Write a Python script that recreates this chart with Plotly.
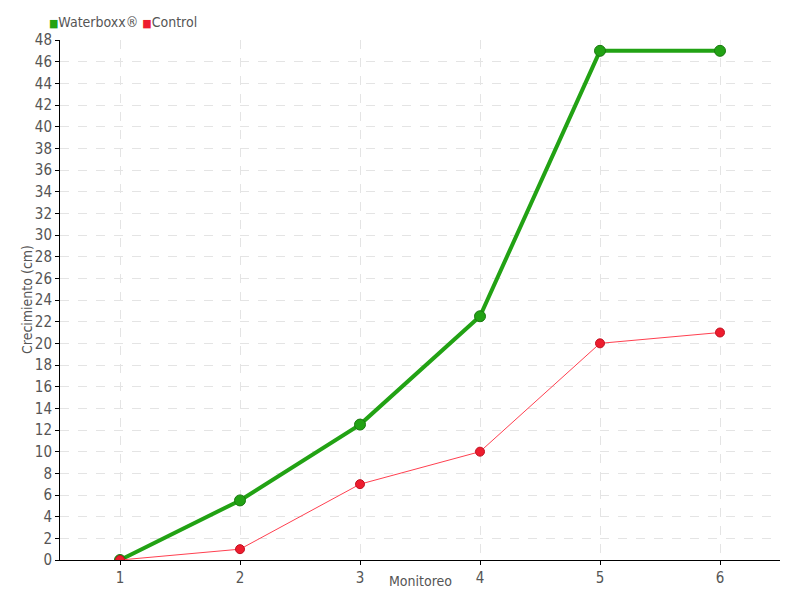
import plotly.graph_objects as go

monitoreo = [1, 2, 3, 4, 5, 6]
waterboxx = [0, 5.5, 12.5, 22.5, 47, 47]
control = [0, 1, 7, 10, 20, 21]
y_ticks = list(range(0, 49, 2))

FONT = "Liberation Sans Narrow, DejaVu Sans Condensed, sans-serif"
GREEN = "#22a214"
RED = "#ee1c2e"
TXT = "#555555"

fig = go.Figure()
fig.add_trace(go.Scatter(
    x=monitoreo, y=waterboxx, mode="lines+markers", name="Waterboxx®",
    line=dict(color=GREEN, width=4),
    marker=dict(size=11, color=GREEN, line=dict(color="#1a7a10", width=1)),
))
fig.add_trace(go.Scatter(
    x=monitoreo, y=control, mode="lines+markers", name="Control",
    line=dict(color="#ff4050", width=1),
    marker=dict(size=9, color=RED, line=dict(color="#c01020", width=1)),
))

fig.add_annotation(
    xref="paper", yref="paper", x=-0.018, y=1.0, xanchor="left", yanchor="bottom",
    yshift=8, showarrow=False, align="left",
    text=(f"<span style='color:{GREEN};font-size:11px'>■</span>Waterboxx® "
          f"<span style='color:{RED};font-size:11px'>■</span>Control"),
    font=dict(family=FONT, size=14, color=TXT),
)
fig.add_annotation(
    xref="paper", yref="paper", x=0.5, y=0, xanchor="center", yanchor="middle",
    yshift=-21, showarrow=False, text="Monitoreo",
    font=dict(family=FONT, size=14, color=TXT),
)
fig.add_annotation(
    xref="paper", yref="paper", x=0, y=0.5, xanchor="center", yanchor="middle",
    xshift=-33, showarrow=False, text="Crecimiento (cm)", textangle=-90,
    font=dict(family=FONT, size=14, color=TXT),
)

fig.update_layout(
    width=792, height=592,
    margin=dict(l=52, r=20, t=32, b=40, autoexpand=False),
    paper_bgcolor="white", plot_bgcolor="white",
    font=dict(family=FONT, size=15, color=TXT),
    showlegend=False,
)
fig.update_xaxes(
    range=[0.5, 6.5], tickvals=monitoreo, ticktext=[str(v) for v in monitoreo],
    showline=True, linecolor="black", linewidth=1,
    ticks="outside", ticklen=4, tickcolor="black",
    showgrid=True, gridcolor="#e4e4e4", griddash="dash", gridwidth=1,
    zeroline=False,
)
fig.update_yaxes(
    range=[0, 48], tickvals=y_ticks,
    showline=True, linecolor="black", linewidth=1,
    ticks="outside", ticklen=4, tickcolor="black",
    showgrid=True, gridcolor="#e4e4e4", griddash="dash", gridwidth=1,
    zeroline=False,
)
fig.write_html("out.html")
